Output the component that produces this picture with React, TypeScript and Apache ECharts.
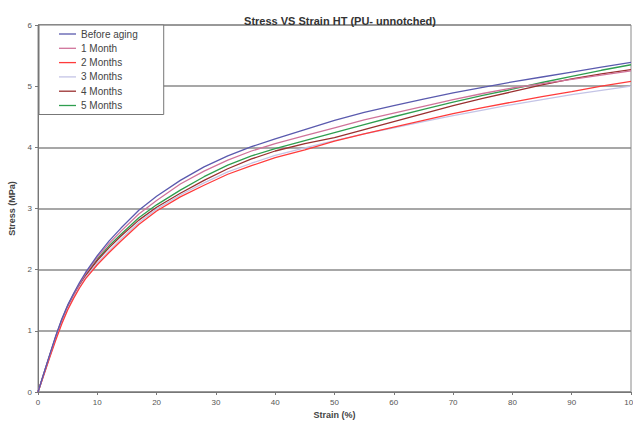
import React, { useEffect, useRef } from "react";
import * as echarts from "echarts";

const strain = [0, 1, 2, 3, 4, 5, 6, 7, 8, 10, 12, 14, 17, 20, 24, 28, 32, 36, 40, 45, 50, 55, 60, 65, 70, 75, 80, 85, 90, 95, 100];

const beforeAging = [0, 0.31, 0.62, 0.92, 1.19, 1.42, 1.61, 1.79, 1.95, 2.23, 2.47, 2.68, 2.97, 3.2, 3.46, 3.68, 3.86, 4.01, 4.14, 4.29, 4.44, 4.57, 4.68, 4.79, 4.89, 4.98, 5.07, 5.15, 5.23, 5.31, 5.39];
const month1 = [0, 0.31, 0.61, 0.91, 1.18, 1.41, 1.6, 1.77, 1.93, 2.2, 2.43, 2.63, 2.91, 3.13, 3.4, 3.61, 3.79, 3.94, 4.06, 4.19, 4.32, 4.45, 4.56, 4.67, 4.78, 4.88, 4.97, 5.04, 5.11, 5.18, 5.25];
const month2 = [0, 0.28, 0.57, 0.85, 1.11, 1.34, 1.53, 1.7, 1.85, 2.08, 2.28, 2.47, 2.74, 2.96, 3.19, 3.38, 3.56, 3.7, 3.83, 3.96, 4.1, 4.22, 4.33, 4.44, 4.55, 4.65, 4.74, 4.83, 4.91, 5.0, 5.08];
const month3 = [0, 0.29, 0.58, 0.87, 1.13, 1.36, 1.55, 1.72, 1.87, 2.11, 2.31, 2.5, 2.77, 2.99, 3.22, 3.42, 3.6, 3.74, 3.87, 3.99, 4.11, 4.22, 4.32, 4.42, 4.52, 4.61, 4.7, 4.78, 4.86, 4.93, 5.0];
const month4 = [0, 0.3, 0.6, 0.89, 1.16, 1.39, 1.58, 1.75, 1.9, 2.15, 2.36, 2.55, 2.81, 3.02, 3.25, 3.46, 3.65, 3.81, 3.94, 4.06, 4.16, 4.29, 4.42, 4.55, 4.68, 4.8, 4.91, 5.02, 5.12, 5.2, 5.27];
const month5 = [0, 0.3, 0.6, 0.9, 1.17, 1.4, 1.59, 1.76, 1.91, 2.17, 2.39, 2.58, 2.85, 3.06, 3.3, 3.52, 3.71, 3.86, 3.98, 4.11, 4.24, 4.37, 4.5, 4.62, 4.74, 4.85, 4.95, 5.06, 5.16, 5.26, 5.35];

const seriesNames = ["Before aging", "1 Month", "2 Months", "3 Months", "4 Months", "5 Months"];
const seriesValues = [beforeAging, month1, month2, month3, month4, month5];
const seriesColors = ["#5a5aae", "#d0739a", "#ff3b3b", "#c4c4e6", "#9a3030", "#2f9e4f"];

const FONT = "'Liberation Sans', Arial, sans-serif";

export default function App() {
  const ref = useRef<HTMLDivElement>(null);
  useEffect(() => {
    if (!ref.current) return;
    const chart = echarts.init(ref.current, undefined, { renderer: "svg" });
    chart.setOption({
      animation: false,
      backgroundColor: "#ffffff",
      textStyle: { fontFamily: FONT },
      title: {
        text: "Stress VS Strain HT (PU- unnotched)",
        left: 335,
        top: 10,
        textAlign: "center",
        textStyle: { fontSize: 11, fontWeight: "bold", color: "#333", fontFamily: FONT },
      },
      legend: {
        orient: "vertical",
        left: 39,
        top: 25,
        padding: [4, 26, 4, 20],
        itemWidth: 17,
        itemHeight: 11,
        itemGap: 4.3,
        borderColor: "#777",
        borderWidth: 1,
        backgroundColor: "#fff",
        icon: "path://M0,0 L17,0 L17,1.3 L0,1.3 Z",
        textStyle: { fontSize: 10, color: "#444", fontFamily: FONT },
        data: seriesNames,
      },
      grid: {
        left: 38,
        right: 2,
        top: 25,
        bottom: 30,
        show: true,
        borderColor: "#8a8a8a",
        borderWidth: 1,
        outerBoundsMode: "none",
        containLabel: false,
      },
      xAxis: {
        type: "value",
        min: 0,
        max: 100,
        interval: 10,
        name: "Strain (%)",
        nameLocation: "middle",
        nameGap: 18,
        nameTextStyle: { fontSize: 9, fontWeight: "bold", color: "#444" },
        axisLine: { lineStyle: { color: "#777", width: 1 } },
        axisTick: { show: true, length: 3, lineStyle: { color: "#777" } },
        axisLabel: { fontSize: 8, color: "#555", margin: 6 },
        splitLine: { show: false },
      },
      yAxis: {
        type: "value",
        min: 0,
        max: 6,
        interval: 1,
        name: "Stress (MPa)",
        nameLocation: "middle",
        nameGap: 22,
        nameRotate: 90,
        nameTextStyle: { fontSize: 9, fontWeight: "bold", color: "#444" },
        axisLine: { show: true, lineStyle: { color: "#777", width: 1 } },
        axisTick: { show: true, length: 3, lineStyle: { color: "#777" } },
        axisLabel: { fontSize: 8, color: "#555", margin: 6 },
        splitLine: { show: true, lineStyle: { color: "#8a8a8a", width: 1.5 } },
      },
      series: seriesNames.map((name, i) => ({
        name,
        type: "line",
        data: strain.map((s, j) => [s, seriesValues[i][j]]),
        showSymbol: false,
        symbol: "none",
        lineStyle: { color: seriesColors[i], width: 1.3 },
        itemStyle: { color: seriesColors[i] },
        z: 3 + (5 - i),
      })),
    });
    return () => chart.dispose();
  }, []);
  return (
    <div
      ref={ref}
      style={{ position: "absolute", left: 0, top: 0, width: 633, height: 422 }}
    />
  );
}
